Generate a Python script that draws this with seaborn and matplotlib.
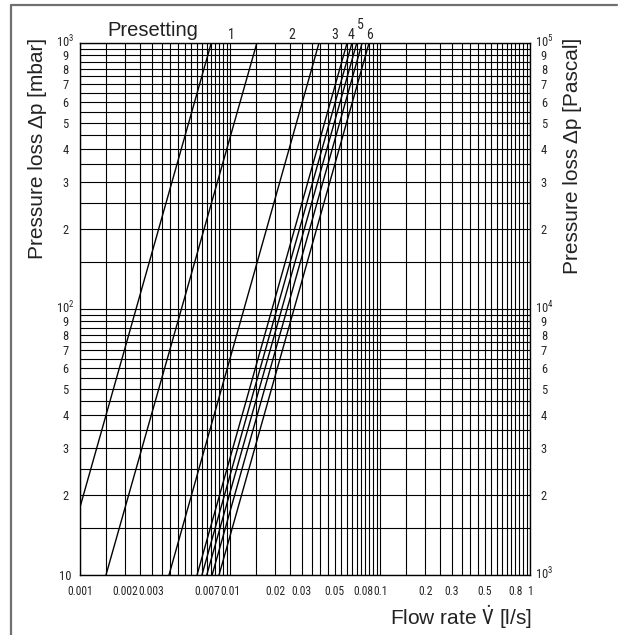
import numpy as np
import pandas as pd
import matplotlib
matplotlib.use("Agg")
import matplotlib.pyplot as plt
from matplotlib.lines import Line2D
from matplotlib.ticker import FixedLocator, NullFormatter
from matplotlib.transforms import ScaledTranslation
from matplotlib import font_manager
import seaborn as sns

# ---------------- data ----------------
curve_names = ["a", "b", "c", "d", "e", "f", "g", "h"]
flow_at_10mbar = [0.000745, 0.00149, 0.00392, 0.00603, 0.0065, 0.0070, 0.0076, 0.00845]
flow_at_1000mbar = [0.00750, 0.0151, 0.0392, 0.0603, 0.065, 0.070, 0.076, 0.0845]
dp_ends = [10, 1000]

preset_labels = ["1", "2", "3", "4", "5", "6"]
preset_label_x = [0.0102, 0.0259, 0.0497, 0.0641, 0.0736, 0.0845]
preset_label_y = [1035, 1035, 1035, 1035, 1129, 1035]

xtick_values = [0.001, 0.002, 0.003, 0.007, 0.01, 0.02, 0.03, 0.05, 0.08, 0.1, 0.2, 0.3, 0.5, 0.8, 1]
xtick_labels = ["0.001", "0.002", "0.003", "0.007", "0.01", "0.02", "0.03", "0.05", "0.08",
                "0.1", "0.2", "0.3", "0.5", "0.8", "1"]
ytick_values_left = [10, 20, 30, 40, 50, 60, 70, 80, 90,
                     100, 200, 300, 400, 500, 600, 700, 800, 900, 1000]
ytick_labels_left = ["10", "2", "3", "4", "5", "6", "7", "8", "9",
                     "$10^2$", "2", "3", "4", "5", "6", "7", "8", "9", "$10^3$"]
ytick_values_right = [1000, 2000, 3000, 4000, 5000, 6000, 7000, 8000, 9000,
                      10000, 20000, 30000, 40000, 50000, 60000, 70000, 80000, 90000, 100000]
ytick_labels_right = ["$10^3$", "2", "3", "4", "5", "6", "7", "8", "9",
                      "$10^4$", "2", "3", "4", "5", "6", "7", "8", "9", "$10^5$"]
grid_mantissas = [1, 1.5, 2, 2.5, 3, 3.5, 4, 4.5, 5, 5.5, 6, 6.5, 7, 7.5, 8, 8.5, 9, 9.5]

# ---------------- build long table ----------------
rows = []
for name, q10, q1000 in zip(curve_names, flow_at_10mbar, flow_at_1000mbar):
    rows.append({"curve": name, "flow": q10, "dp": dp_ends[0]})
    rows.append({"curve": name, "flow": q1000, "dp": dp_ends[1]})
df = pd.DataFrame(rows)

sns.set_style("white")
plt.rcParams["font.family"] = ["Liberation Sans", "DejaVu Sans"]

installed = {f.name for f in font_manager.fontManager.ttflist}
narrow_font = None
for cand in ["Liberation Sans Narrow", "DejaVu Sans Condensed", "Roboto Condensed",
             "Open Sans Condensed", "Arial Narrow"]:
    if cand in installed:
        narrow_font = cand
        break
if narrow_font is None:
    tick_family = ["Liberation Sans", "DejaVu Sans"]
    xtick_size = 7.2
    math_font = "Liberation Sans"
else:
    tick_family = [narrow_font, "Liberation Sans", "DejaVu Sans"]
    xtick_size = 8.4
    math_font = narrow_font
plt.rcParams["mathtext.fontset"] = "custom"
plt.rcParams["mathtext.rm"] = math_font
plt.rcParams["mathtext.it"] = math_font
plt.rcParams["mathtext.bf"] = math_font

W, H = 621, 635
fig = plt.figure(figsize=(W / 100, H / 100), dpi=100)
ax = fig.add_axes([80 / W, 60 / H, 450 / W, 532 / H])

sns.lineplot(data=df, x="flow", y="dp", units="curve", estimator=None,
             color="black", lw=1.0, ax=ax, legend=False, sort=False)

ax.set_xscale("log")
ax.set_yscale("log")
ax.set_xlim(0.001, 1)
ax.set_ylim(10, 1000)

# grid (technical log paper)
xgrid = [m * 10.0 ** e for e in (-3, -2, -1) for m in grid_mantissas] + [1]
ygrid = [m * 10.0 ** e for e in (1, 2) for m in grid_mantissas] + [1000]
ax.xaxis.set_minor_locator(FixedLocator(xgrid))
ax.yaxis.set_minor_locator(FixedLocator(ygrid))
ax.xaxis.set_minor_formatter(NullFormatter())
ax.yaxis.set_minor_formatter(NullFormatter())
ax.set_xticks(xtick_values)
ax.set_xticklabels(xtick_labels)
ax.set_yticks(ytick_values_left)
ax.set_yticklabels(ytick_labels_left)
ax.grid(which="both", color="black", lw=0.8)
ax.set_axisbelow(True)
ax.tick_params(which="both", length=0)
ax.tick_params(axis="x", pad=7, labelsize=xtick_size)
ax.tick_params(axis="y", pad=10.5, labelsize=9)
for t in ax.get_xticklabels():
    t.set_family(tick_family)
for t in ax.get_yticklabels():
    t.set_family(tick_family)
    t.set_horizontalalignment("center")
# nudge the crowded pair 0.08 / 0.1 apart slightly
for t in ax.get_xticklabels():
    if t.get_text() == "0.08":
        t.set_transform(t.get_transform() + ScaledTranslation(-2.5 / 100, 0, fig.dpi_scale_trans))
    if t.get_text() == "0.1":
        t.set_transform(t.get_transform() + ScaledTranslation(1.0 / 100, 0, fig.dpi_scale_trans))
for s in ax.spines.values():
    s.set_color("black")
    s.set_linewidth(1.0)
ax.set_xlabel("")
ax.set_ylabel("")

ax2 = ax.twinx()
ax2.set_yscale("log")
ax2.set_ylim(1000, 100000)
ax2.set_yticks(ytick_values_right)
ax2.set_yticklabels(ytick_labels_right)
ax2.yaxis.set_minor_formatter(NullFormatter())
ax2.tick_params(which="both", length=0)
ax2.tick_params(axis="y", pad=10, labelsize=9)
for t in ax2.get_yticklabels():
    t.set_family(tick_family)
    t.set_horizontalalignment("center")
ax2.grid(False)
for s in ax2.spines.values():
    s.set_visible(False)

# lift the power-of-ten labels a touch so they clear the "9" just below
for t in list(ax.get_yticklabels()) + list(ax2.get_yticklabels()):
    if t.get_text().startswith("$10"):
        t.set_transform(t.get_transform() + ScaledTranslation(0, 2.0 / 100, fig.dpi_scale_trans))

# presetting labels
for lab, x, y in zip(preset_labels, preset_label_x, preset_label_y):
    ax.text(x, y, lab, ha="center", va="baseline", fontsize=10, family=tick_family,
            clip_on=False)
ax.text(0.00152, 1062, "Presetting", ha="left", va="baseline", fontsize=14.5,
        color="#222222", clip_on=False)

# axis titles
fig.text(532 / W, 1 - 617 / H, r"Flow rate $\dot{\mathrm{V}}$ [l/s]", ha="right", va="center",
         fontsize=15, color="#222222")
fig.text(38 / W, 1 - 38 / H, "Pressure loss \u0394p [mbar]", rotation=90,
         ha="center", va="top", fontsize=15, color="#222222")
fig.text(572 / W, 1 - 38 / H, "Pressure loss \u0394p [Pascal]", rotation=90,
         ha="center", va="top", fontsize=15, color="#222222")

# outer frame (top and left edges visible)
fig.add_artist(Line2D([10.5 / W, 10.5 / W], [0, 1 - 5 / H], transform=fig.transFigure,
                      color="#707070", lw=1.6))
fig.add_artist(Line2D([10.5 / W, 617 / W], [1 - 5 / H, 1 - 5 / H], transform=fig.transFigure,
                      color="#707070", lw=1.6))

fig.savefig("out.png", dpi=100, facecolor="white")
